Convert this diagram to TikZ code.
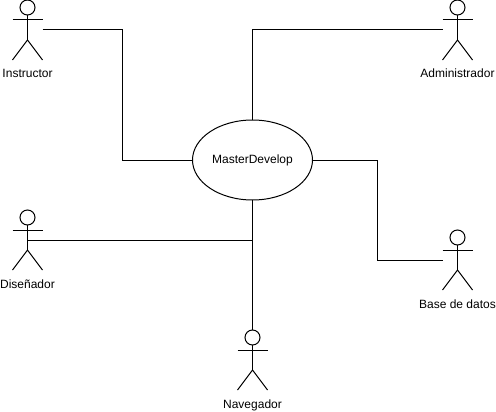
\documentclass[tikz,border=0pt]{standalone}
\usepackage{fontspec}
\setmainfont{Liberation Sans}
\usetikzlibrary{shapes}

\begin{document}
\begin{tikzpicture}[%
x=1pt,
y=-1pt,
line width=1pt,
anchor=base,
actor/.style={inner sep=0mm, outer sep=0mm, minimum width=30pt, minimum height=60pt, anchor=center},
usecase/.style={ellipse, draw, inner sep=0mm, outer sep=0mm, minimum width=120pt, minimum height=80pt, anchor=center},
felirat/.style={inner sep=0mm},
]

\useasboundingbox (0,0) rectangle (496,412);
\fontsize{12}{14}\selectfont

\node[usecase](master) at (252.5,160){MasterDevelop};

\foreach \nev/\x/\y/\szoveg in {
  instructor/27.5/30/Instructor,
  administrador/457.5/30/Administrador,
  disenador/27.5/240/Diseñador,
  navegador/252.5/360/Navegador,
  base/457.5/260/Base de datos}{
  \node[actor](\nev) at (\x,\y){};
  \node[felirat](\nev-t) at ([yshift=-18pt]\nev.south){\szoveg};
  \draw ([yshift=-7.5pt]\nev.north) circle (7.5pt);
  \draw ([yshift=-15pt]\nev.north)--([yshift=20pt]\nev.south);
  \draw ([yshift=-20pt]\nev.north west)--([yshift=-20pt]\nev.north east);
  \draw (\nev.south west)--([yshift=20pt]\nev.south)--(\nev.south east);
}

\draw (instructor.east)-|(122.5,160)--(master.west);
\draw (administrador.west)-|(master.north);
\draw (master.east)-|(377.5,260)--(base.west);
\draw (disenador.center)--(252.5,240);
\draw (master.south)--(navegador.north);

\end{tikzpicture}
\end{document}
